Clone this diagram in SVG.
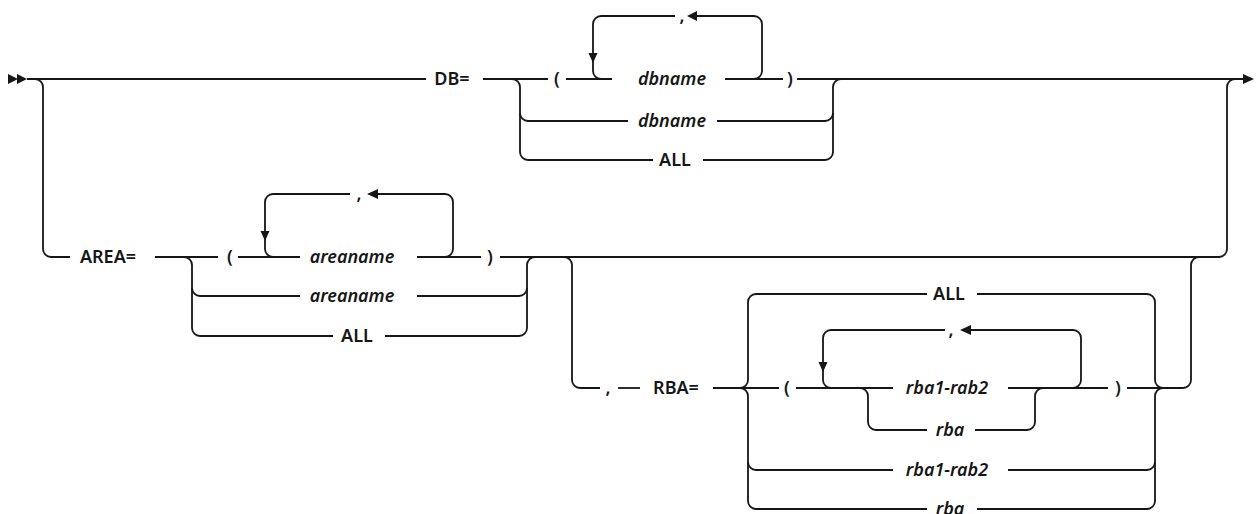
<svg xmlns="http://www.w3.org/2000/svg" width="1256" height="514" viewBox="0 0 1256 514">
<defs>
<style>
.ln{fill:none;stroke:#161616;stroke-width:1.8;stroke-linejoin:round}
.ah{fill:#161616;stroke:none}
.t{font-family:"Noto Sans","Liberation Sans",sans-serif;font-size:18px;font-weight:600;fill:#161616;text-anchor:middle}
.i{font-style:italic}
</style>
</defs>
<rect width="1256" height="514" fill="#ffffff"/>
<g id="connectors">
<polygon class="ah" points="8,74 18,79 8,84"/>
<polygon class="ah" points="17,74 27,79 17,84"/>
<path class="ln" d="M27,79 H426"/>
<path class="ln" d="M35,79 A8,8 0 0 1 43,87 V249 A8,8 0 0 0 51,257 H70"/>
<path class="ln" d="M483,79 H548"/>
<path class="ln" d="M512,79 A8,8 0 0 1 520,87 V152 A8,8 0 0 0 528,160 H653"/>
<path class="ln" d="M520,113 A8,8 0 0 0 528,121 H628"/>
<path class="ln" d="M566,79 H612"/>
<path class="ln" d="M725,79 H783"/>
<path class="ln" d="M797,79 H1243"/>
<path class="ln" d="M717,121 H825 A8,8 0 0 0 833,113"/>
<path class="ln" d="M703,160 H825 A8,8 0 0 0 833,152 V87 A8,8 0 0 1 841,79"/>
<path class="ln" d="M601,79 A8,8 0 0 1 593,71 V24 A8,8 0 0 1 601,16 H675"/>
<path class="ln" d="M697,16 H754 A8,8 0 0 1 762,24 V71 A8,8 0 0 1 754,79"/>
<polygon class="ah" points="687,16 697,11 697,21"/>
<polygon class="ah" points="588.5,53 597.5,53 593,63"/>
<polygon class="ah" points="1243,74 1254,79 1243,84"/>
<path class="ln" d="M155,257 H218"/>
<path class="ln" d="M238,257 H300"/>
<path class="ln" d="M417,257 H481"/>
<path class="ln" d="M500,257 H1219 A8,8 0 0 0 1227,249 V87 A8,8 0 0 1 1235,79"/>
<path class="ln" d="M184,257 A8,8 0 0 1 192,265 V328 A8,8 0 0 0 200,336 H333"/>
<path class="ln" d="M192,288 A8,8 0 0 0 200,296 H300"/>
<path class="ln" d="M417,296 H519 A8,8 0 0 0 527,288"/>
<path class="ln" d="M385,336 H519 A8,8 0 0 0 527,328 V265 A8,8 0 0 1 535,257"/>
<path class="ln" d="M273,257 A8,8 0 0 1 265,249 V202 A8,8 0 0 1 273,194 H350"/>
<path class="ln" d="M378,194 H445 A8,8 0 0 1 453,202 V249 A8,8 0 0 1 445,257"/>
<polygon class="ah" points="367,194 378,189 378,199"/>
<polygon class="ah" points="260.5,231 269.5,231 265,241"/>
<path class="ln" d="M564,257 A8,8 0 0 1 572,265 V380 A8,8 0 0 0 580,388 H600"/>
<path class="ln" d="M618,388 H640"/>
<path class="ln" d="M713,388 H779"/>
<path class="ln" d="M740,388 A8,8 0 0 0 748,380 V302 A8,8 0 0 1 756,294 H927"/>
<path class="ln" d="M740,388 A8,8 0 0 1 748,396 V501 A8,8 0 0 0 756,509 H927"/>
<path class="ln" d="M748,462 A8,8 0 0 0 756,470 H893"/>
<path class="ln" d="M977,294 H1147 A8,8 0 0 1 1155,302 V380 A8,8 0 0 0 1163,388"/>
<path class="ln" d="M977,509 H1147 A8,8 0 0 0 1155,501 V396 A8,8 0 0 1 1163,388"/>
<path class="ln" d="M1008,470 H1147 A8,8 0 0 0 1155,462"/>
<path class="ln" d="M796,388 H893"/>
<path class="ln" d="M1008,388 H1108"/>
<path class="ln" d="M1127,388 H1183 A8,8 0 0 0 1191,380 V265 A8,8 0 0 1 1199,257"/>
<path class="ln" d="M831,388 A8,8 0 0 1 823,380 V338 A8,8 0 0 1 831,330 H945"/>
<path class="ln" d="M971,330 H1073 A8,8 0 0 1 1081,338 V380 A8,8 0 0 1 1073,388"/>
<polygon class="ah" points="960,330 971,325 971,335"/>
<polygon class="ah" points="818.5,362 827.5,362 823,372"/>
<path class="ln" d="M860,388 A8,8 0 0 1 868,396 V422 A8,8 0 0 0 876,430 H927"/>
<path class="ln" d="M975,430 H1027 A8,8 0 0 0 1035,422 V396 A8,8 0 0 1 1043,388"/>
</g>
<g id="n-db"><text class="t" x="452" y="85">DB=</text></g>
<g id="n-db-lparen"><text class="t" x="557" y="85">(</text></g>
<g id="n-db-comma"><text class="t" x="682" y="22">,</text></g>
<g id="n-db-dbname1"><text class="t i" x="672" y="85">dbname</text></g>
<g id="n-db-rparen"><text class="t" x="790" y="85">)</text></g>
<g id="n-db-dbname2"><text class="t i" x="672" y="127">dbname</text></g>
<g id="n-db-all"><text class="t" x="675" y="166">ALL</text></g>
<g id="n-area"><text class="t" x="108" y="263">AREA=</text></g>
<g id="n-area-lparen"><text class="t" x="230" y="263">(</text></g>
<g id="n-area-comma"><text class="t" x="359" y="200">,</text></g>
<g id="n-area-name1"><text class="t i" x="352" y="263">areaname</text></g>
<g id="n-area-rparen"><text class="t" x="490" y="263">)</text></g>
<g id="n-area-name2"><text class="t i" x="352" y="302">areaname</text></g>
<g id="n-area-all"><text class="t" x="357" y="342">ALL</text></g>
<g id="n-rba-comma"><text class="t" x="608" y="394">,</text></g>
<g id="n-rba"><text class="t" x="676" y="394">RBA=</text></g>
<g id="n-rba-all"><text class="t" x="949" y="300">ALL</text></g>
<g id="n-rba-lparen"><text class="t" x="787" y="394">(</text></g>
<g id="n-rba-comma2"><text class="t" x="951" y="336">,</text></g>
<g id="n-rba-range1"><text class="t i" x="947" y="394">rba1-rab2</text></g>
<g id="n-rba-rparen"><text class="t" x="1118" y="394">)</text></g>
<g id="n-rba-rba1"><text class="t i" x="950" y="436">rba</text></g>
<g id="n-rba-range2"><text class="t i" x="947" y="476">rba1-rab2</text></g>
<g id="n-rba-rba2"><text class="t i" x="950" y="515">rba</text></g>
</svg>
